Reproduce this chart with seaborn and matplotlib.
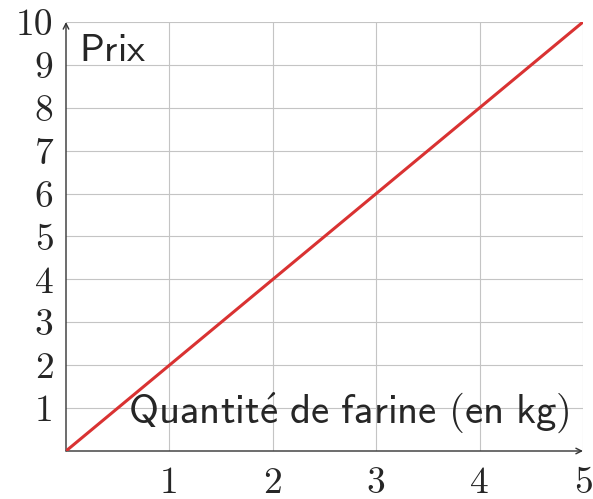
import numpy as np
import pandas as pd
import matplotlib
matplotlib.use("Agg")
import matplotlib.pyplot as plt
import seaborn as sns

# Data
quantite = [0, 1, 2, 3, 4, 5]
prix = [0, 2, 4, 6, 8, 10]
x_ticks = [1, 2, 3, 4, 5]
y_ticks = [1, 2, 3, 4, 5, 6, 7, 8, 9, 10]

sns.set_style("white")
plt.rcParams["font.family"] = ["cmr10", "DejaVu Serif"]
plt.rcParams["axes.formatter.use_mathtext"] = True
plt.rcParams["mathtext.fontset"] = "cm"

df = pd.DataFrame({"Quantite": quantite, "Prix": prix})

fig = plt.figure(figsize=(5.93, 4.99), dpi=100)
ax = fig.add_axes([66 / 593, 48 / 499, 517 / 593, 429 / 499])

sns.lineplot(data=df, x="Quantite", y="Prix", color="#d93232", linewidth=2.2, ax=ax, zorder=5)

ax.set_xlim(0, 5)
ax.set_ylim(0, 10)
ax.set_xticks(x_ticks)
ax.set_yticks(y_ticks)
ax.set_xticklabels([str(t) for t in x_ticks])
ax.set_yticklabels([str(t) for t in y_ticks])
ax.tick_params(axis="both", direction="inout", length=8, width=0.8, color="#555555",
               labelsize=27)
ax.tick_params(axis="x", pad=7)
ax.tick_params(axis="y", pad=5)
ax.grid(True, color="#c4c4c4", linewidth=0.8)
ax.set_axisbelow(True)
for side in ["top", "right", "left", "bottom"]:
    ax.spines[side].set_visible(False)
ax.set_xlabel("")
ax.set_ylabel("")

# axes with arrows
ax.annotate("", xy=(1.0, 0), xytext=(0, 0), xycoords="axes fraction",
            arrowprops=dict(arrowstyle="->", color="#333333", lw=1.0, shrinkA=0, shrinkB=0))
ax.annotate("", xy=(0, 1.0), xytext=(0, 0), xycoords="axes fraction",
            arrowprops=dict(arrowstyle="->", color="#333333", lw=1.0, shrinkA=0, shrinkB=0))

ax.text(0.025, 0.975, r"$\mathsf{Prix}$", transform=ax.transAxes, ha="left", va="top",
        fontsize=28)
ax.text(0.975, 0.035, r"$\mathsf{Quantit\acute{e}\ de\ farine\ (en\ kg)}$",
        transform=ax.transAxes, ha="right", va="bottom", fontsize=29.5)

fig.savefig("out.png", dpi=100)
